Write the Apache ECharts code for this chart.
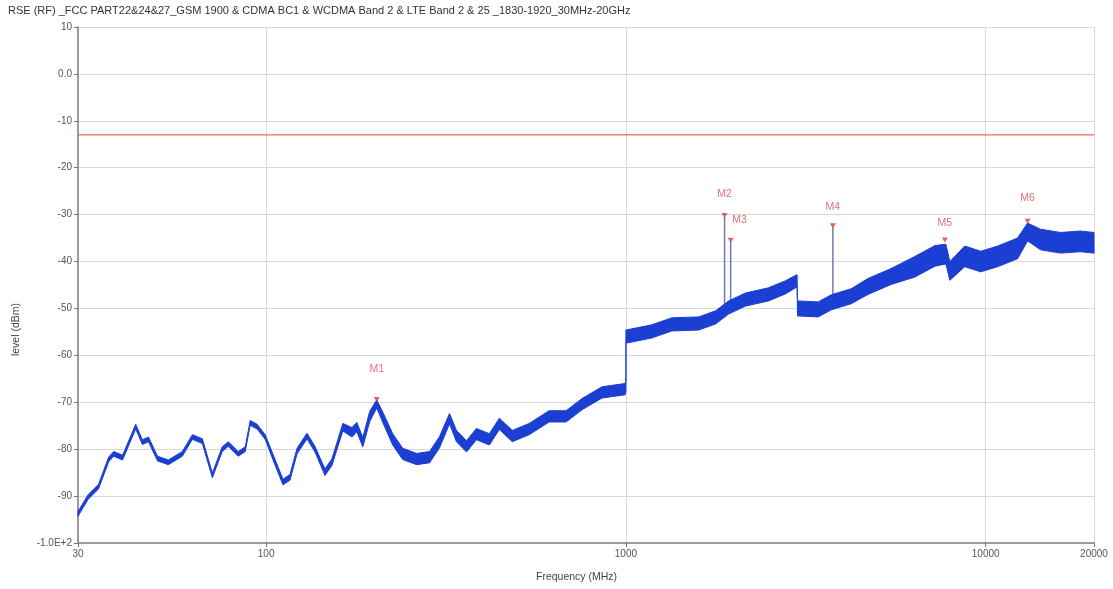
<!DOCTYPE html>
<html>
<head>
<meta charset="utf-8">
<script src="https://cdn.jsdelivr.net/npm/echarts@6/dist/echarts.min.js"></script>
<style>
html,body{margin:0;padding:0;background:#fff;}
#c{width:1113px;height:589px;}
</style>
</head>
<body>
<div id="c"></div>
<script>
// ---- data ----
const titleText = "RSE (RF) _FCC PART22&24&27_GSM 1900 & CDMA BC1 & WCDMA Band 2 & LTE Band 2 & 25 _1830-1920_30MHz-20GHz";
const yTicks = [10, 0, -10, -20, -30, -40, -50, -60, -70, -80, -90, -100];
const xTickLabels = [30, 100, 1000, 10000, 20000];

// trace envelope: frequency (MHz), lower edge (dBm), upper edge (dBm)
const traceFreq = [30,32,34.2,36.5,37.7,39.9,43.4,45.3,47.1,49.9,53.5,58.5,62.4,66.5,70.9,75.5,78.5,83.6,87.5,90.3,94.4,99.4,105.9,111.4,116.5,121.9,129.9,136.7,145.7,152.3,163.4,173.1,178.7,185.7,194.1,203,211,224.8,239.6,262,284.7,303.4,323.4,338.1,360.5,384.1,417.4,444.9,483.4,538.8,611.7,682.1,755.2,858.1,995,1000,1000,1180,1341,1593,1776,1929,2150,2490,2775,2990,3000,3424,3721,4227,4711,5456,6359,7223,7750,7950,8747,9686,10795,12262,13074,14206,16141,18338,20000];
const traceLow = [-94.3,-90.7,-88.5,-82.7,-81.5,-82.3,-75.7,-79.0,-78.4,-82.5,-83.3,-81.5,-77.9,-78.8,-86.1,-80.5,-79.4,-81.5,-80.5,-74.9,-75.7,-77.9,-83.4,-87.6,-86.6,-81.0,-77.8,-80.6,-85.6,-83.5,-76.1,-77.4,-76.3,-79.5,-74.1,-71.2,-74.3,-79.1,-82.2,-83.3,-82.9,-79.7,-74.6,-78.4,-80.6,-78.0,-79.1,-75.8,-78.4,-76.9,-74.2,-74.2,-71.6,-69.1,-68.4,-67.5,-57.4,-56.3,-54.8,-54.6,-53.3,-51.2,-49.5,-48.4,-46.9,-45.4,-51.6,-51.8,-50.3,-49.0,-47.0,-44.9,-43.3,-41.0,-40.5,-44.0,-41.1,-42.2,-41.1,-39.4,-35.6,-37.5,-38.2,-37.9,-38.2];
const traceHigh = [-93.3,-89.7,-87.5,-81.7,-80.5,-81.3,-74.7,-78.0,-77.4,-81.5,-82.3,-80.5,-76.9,-77.8,-85.1,-79.5,-78.4,-80.5,-79.5,-73.9,-74.7,-76.9,-82.2,-86.4,-85.4,-79.8,-76.6,-79.4,-84.2,-82.1,-74.5,-75.4,-74.3,-77.5,-71.9,-69.5,-72.1,-76.7,-79.8,-80.9,-80.5,-77.3,-72.4,-76.0,-78.2,-75.6,-76.7,-73.4,-76.0,-74.5,-71.8,-71.8,-69.2,-66.7,-66.0,-65.5,-54.6,-53.5,-52.0,-51.8,-50.5,-48.4,-46.7,-45.6,-44.1,-42.8,-48.4,-48.6,-47.1,-45.8,-43.6,-41.5,-38.9,-36.6,-36.3,-40.0,-36.7,-37.8,-36.7,-35.0,-31.8,-33.1,-33.8,-33.5,-33.8];

// narrow spurious spikes: frequency, base level, peak level
const spikeFreq = [1880, 1955, 3760];
const spikeBase = [-52.0, -50.5, -49.0];
const spikePeak = [-30.4, -35.7, -32.6];

// markers
const markerNames = ["M1", "M2", "M3", "M4", "M5", "M6"];
const markerFreq = [203, 1880, 1955, 3760, 7700, 13074];
const markerLevel = [-69.6, -30.4, -35.7, -32.6, -35.6, -31.6];

// limit line
const limitLevel = -13;
const limitFreq = [30, 20000];

// ---- build chart ----
const blue = '#1a3fd2';
const font = 'Liberation Sans';

const spikeSeries = spikeFreq.map((f, i) => ({
  type: 'line', silent: true, symbol: 'none',
  data: [[f, spikeBase[i]], [f, spikePeak[i]]],
  lineStyle: { color: '#6d7cb8', width: 1.5 }, z: 3
}));

const labelOffsets = {
  M1: [0, -30], M2: [0, -21], M3: [9, -20], M4: [0, -19], M5: [0, -17], M6: [0, -23]
};

const chart = echarts.init(document.getElementById('c'), null, { renderer: 'canvas' });
chart.setOption({
  animation: false,
  backgroundColor: '#fff',
  title: {
    text: titleText, left: 3, top: 0,
    textStyle: { fontSize: 11, fontWeight: 'normal', color: '#333', fontFamily: font }
  },
  graphic: [
    { type: 'text', left: 11, top: 303, rotation: Math.PI / 2,
      style: { text: 'level (dBm)', fontSize: 10.5, fill: '#444', fontFamily: font } },
    { type: 'text', left: 536, top: 572,
      style: { text: 'Frequency (MHz)', fontSize: 10.5, fill: '#444', fontFamily: font } }
  ],
  grid: { left: 78, right: 19, top: 27, bottom: 46, containLabel: false },
  xAxis: {
    type: 'log', logBase: 10, min: 30, max: 20000,
    axisLine: { show: true, onZero: false, lineStyle: { color: '#9a9a9a', width: 2 } },
    axisTick: { show: true, length: 4, lineStyle: { color: '#777' } },
    splitLine: { show: true, lineStyle: { color: '#d8d8d8', width: 1 } },
    axisLabel: {
      color: '#555', fontSize: 10, fontFamily: font, margin: 6,
      showMinLabel: true, showMaxLabel: true,
      formatter: v => {
        const r = Math.round(v);
        return xTickLabels.indexOf(r) >= 0 ? String(r) : '';
      }
    }
  },
  yAxis: {
    type: 'value', min: -100, max: 10, interval: 10,
    axisLine: { show: true, onZero: false, lineStyle: { color: '#9a9a9a', width: 2 } },
    axisTick: { show: true, length: 4, lineStyle: { color: '#777' } },
    splitLine: { show: true, lineStyle: { color: '#d8d8d8', width: 1 } },
    axisLabel: {
      color: '#555', fontSize: 10, fontFamily: font, margin: 6,
      formatter: v => {
        if (yTicks.indexOf(v) < 0) return '';
        if (v === 0) return '0.0';
        if (v === -100) return '-1.0E+2';
        return String(v);
      }
    }
  },
  series: [
    {
      type: 'line', name: 'limit', symbol: 'none', silent: true,
      data: limitFreq.map(f => [f, limitLevel]),
      lineStyle: { color: '#e34040', width: 1 }, z: 2
    },
    {
      type: 'custom', name: 'trace', silent: true, z: 4,
      data: [[traceFreq[0], traceLow[0]]],
      renderItem: (params, api) => {
        const pts = [];
        for (let i = 0; i < traceFreq.length; i++) pts.push(api.coord([traceFreq[i], traceHigh[i]]));
        for (let i = traceFreq.length - 1; i >= 0; i--) pts.push(api.coord([traceFreq[i], traceLow[i]]));
        return {
          type: 'polygon',
          shape: { points: pts },
          style: { fill: blue, stroke: blue, lineWidth: 1, lineJoin: 'round' }
        };
      }
    },
    ...spikeSeries,
    {
      type: 'scatter', name: 'markers', silent: true,
      data: markerNames.map((n, i) => ({
        value: [markerFreq[i], markerLevel[i]],
        name: n,
        label: { offset: labelOffsets[n] }
      })),
      symbol: 'triangle', symbolRotate: 180, symbolSize: [6, 5], symbolOffset: [0, -1],
      itemStyle: { color: '#e03838' },
      label: {
        show: true, position: 'inside', formatter: p => p.name,
        color: '#e34a4a', fontSize: 10.5, fontFamily: font
      },
      z: 6
    }
  ]
});
</script>
</body>
</html>
